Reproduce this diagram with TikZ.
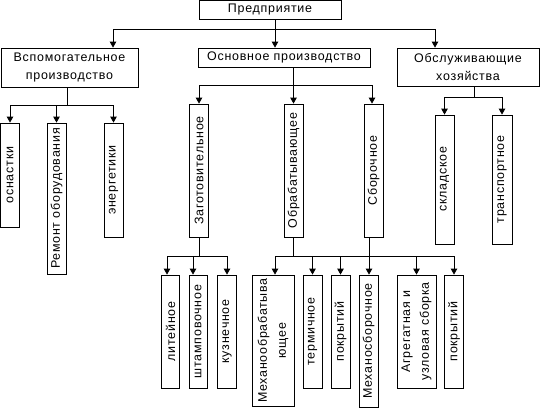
\documentclass[tikz,border=0pt]{standalone}
\usepackage{fontspec}
\setmainfont{Liberation Sans}[LetterSpace=6]
\usetikzlibrary{arrows.meta}
\tikzset{
  box/.style={draw, line width=0.8bp, inner sep=0pt, align=center, font=\fontsize{12.5}{19}\selectfont},
  vbox/.style={box, rotate=90},
  ln/.style={line width=0.8bp},
  arr/.style={line width=0.8bp, -{Triangle[length=6bp,width=6.5bp]}},
}
\begin{document}
\begin{tikzpicture}[x=1bp,y=-1bp]
\fill[white] (0,0) rectangle (543,410);
\useasboundingbox (0,0) rectangle (543,410);
% level 0/1
\node[box, minimum width=142bp, minimum height=19bp] (pred) at (270,10) {Предприятие};
\node[box, minimum width=137bp, minimum height=39bp] (vsp) at (69.5,67.5) {Вспомогательное\\производство};
\node[box, minimum width=172bp, minimum height=19bp] (osn) at (284,57.5) {Основное производство};
\node[box, minimum width=142bp, minimum height=38bp] (obs) at (468,67) {Обслуживающие\\хозяйства};
% level 2
\node[vbox, minimum width=104bp, minimum height=18.5bp] (osn1) at (10,175) {оснастки};
\node[vbox, minimum width=151bp, minimum height=19bp] (rem) at (56.5,198.5) {Ремонт оборудования};
\node[vbox, minimum width=114bp, minimum height=19bp] (ener) at (113.5,180) {энергетики};
\node[vbox, minimum width=133bp, minimum height=18.5bp] (zag) at (199,170.5) {Заготовительное};
\node[vbox, minimum width=133bp, minimum height=19bp] (obr) at (293.5,170.5) {Обрабатывающее};
\node[vbox, minimum width=133bp, minimum height=19bp] (sbor) at (373.5,170.5) {Сборочное};
\node[vbox, minimum width=129bp, minimum height=19bp] (skl) at (444.5,179.5) {складское};
\node[vbox, minimum width=129bp, minimum height=20bp] (tra) at (502,179.5) {транспортное};
% level 3
\node[vbox, minimum width=113bp, minimum height=17.5bp] (lit) at (170.5,331.5) {литейное};
\node[vbox, minimum width=113bp, minimum height=18bp] (sht) at (198,331.5) {штамповочное};
\node[vbox, minimum width=113bp, minimum height=18.5bp] (kuz) at (227,331.5) {кузнечное};
\node[vbox, minimum width=131bp, minimum height=42bp] (mex) at (273,340.5) {Механообрабатыва\\ющее};
\node[vbox, minimum width=113bp, minimum height=19bp] (ter) at (312.5,331.5) {термичное};
\node[vbox, minimum width=113bp, minimum height=19bp] (pok1) at (340.5,331.5) {покрытий};
\node[vbox, minimum width=132bp, minimum height=19bp] (mexs) at (368.5,341) {Механосборочное};
\node[vbox, minimum width=113bp, minimum height=39bp] (agr) at (416.5,331.5) {Агрегатная и\\узловая сборка};
\node[vbox, minimum width=113bp, minimum height=18.5bp] (pok2) at (454,331.5) {покрытий};
% connectors level 0 -> 1
\coordinate (t0) at (275,29);
\draw[arr] (pred.south -| t0) -- (osn.north -| t0);
\draw[arr] (t0) -| ([xshift=43.5bp]vsp.north);
\draw[arr] (t0) -| ([xshift=-33bp]obs.north);
% vsp -> children
\coordinate (t1) at (67,105);
\draw[ln] (vsp.south -| t1) -- (t1);
\draw[arr] (t1) -| (osn1.east);
\draw[arr] (t1) -| (rem.east);
\draw[arr] (t1) -| (ener.east);
% osn -> children
\coordinate (t2) at (293.5,85);
\draw[arr] (osn.south -| t2) -- (obr.east);
\draw[arr] (t2) -| (zag.east);
\draw[arr] (t2) -| ([xshift=-1.5bp]sbor.east);
% obs -> children
\coordinate (t3) at (474,97);
\draw[ln] (obs.south -| t3) -- (t3);
\draw[arr] (t3) -| (skl.east);
\draw[arr] (t3) -| (tra.east);
% zag -> children
\coordinate (t4) at (199.5,256);
\draw[ln] (zag.west -| t4) -- (t4);
\draw[arr] (t4) -| ([xshift=-3.5bp]lit.east);
\draw[arr] (t4) -| ([xshift=-5bp]sht.east);
\draw[arr] (t4) -| (kuz.east);
% obr / sbor -> children
\coordinate (t5) at (293.5,256);
\coordinate (t6) at (369,256);
\draw[ln] (obr.west) -- (t5);
\draw[arr] (sbor.west -| t6) -- (mexs.east -| t6);
\draw[arr] (t5) -| ([xshift=2bp]mex.east);
\draw[arr] (t5) -| (ter.east);
\draw[arr] (t5) -| (pok1.east);
\draw[arr] (t5) -| (agr.east);
\draw[arr] (t5) -| (pok2.east);
\end{tikzpicture}
\end{document}
